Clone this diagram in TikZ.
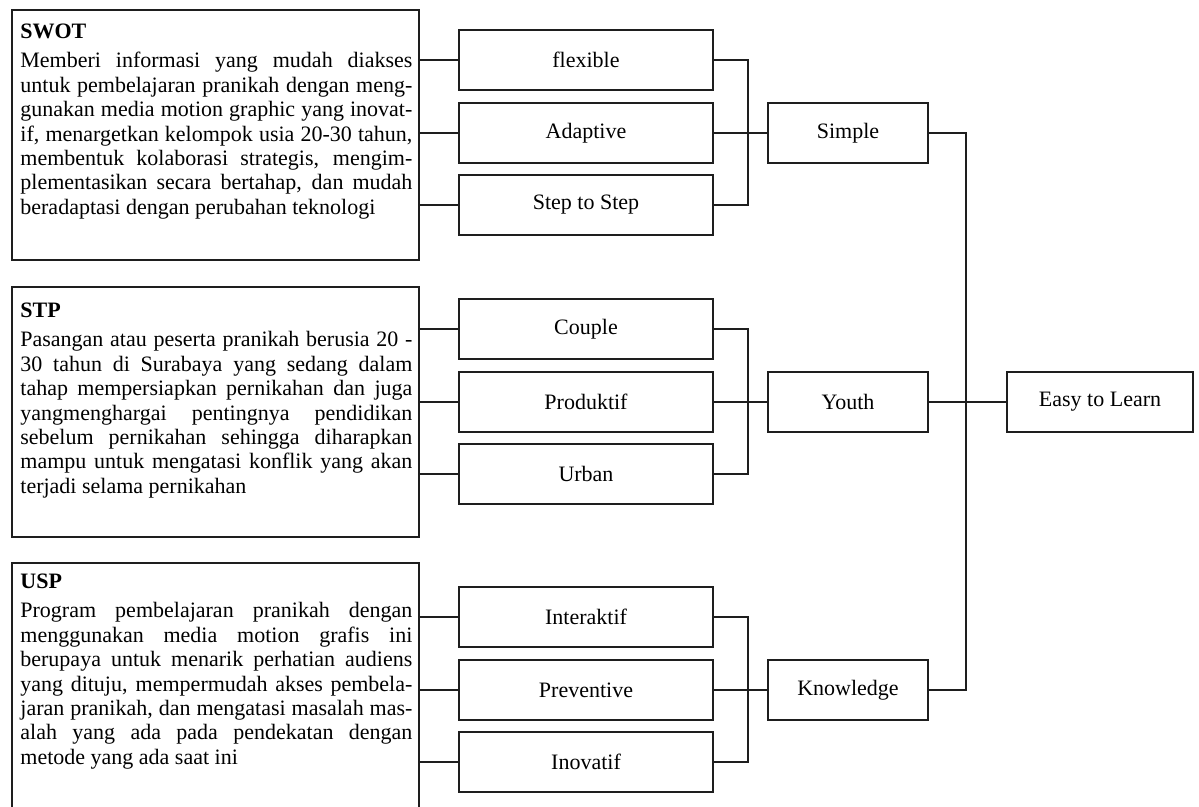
\documentclass[tikz,border=0pt]{standalone}
\usepackage{fontspec}
\setmainfont{Liberation Serif}
\usetikzlibrary{positioning}
\setlength{\parindent}{0pt}
\definecolor{linegray}{HTML}{1E1E1E}
\newcommand{\descfont}{\fontsize{11}{12.2}\selectfont\hyphenpenalty=10000\tolerance=10000\relax}

\tikzset{
  descbox/.style={draw=linegray, line width=0.9pt, minimum width=203.5pt, minimum height=125pt, inner sep=0pt},
  desctext/.style={anchor=north west, inner sep=0pt, text width=196pt, align=justify, font=\descfont},
  itembox/.style={draw=linegray, line width=0.9pt, minimum width=127pt, minimum height=30pt, inner sep=0pt,
    font=\fontsize{11}{13}\selectfont},
  groupbox/.style={itembox, minimum width=80pt},
  link/.style={draw=linegray, line width=0.9pt}
}

\begin{document}
\begin{tikzpicture}[x=0.5pt,y=-0.5pt]
\useasboundingbox (0,0) rectangle (1199,807);

% left column: description boxes
\node[descbox] (swot) at (215.5,135) {};
\node[descbox] (stp) at (215.5,412) {};
\node[descbox] (usp) at (215.5,688) {};

\node[desctext] (swottext) at (20,24) {\textbf{SWOT}\par\vspace{2.3pt}
Memberi informasi yang mudah diakses\linebreak
untuk pembelajaran pranikah dengan meng-\linebreak
gunakan media motion graphic yang inovat-\linebreak
if, menargetkan kelompok usia 20-30 tahun,\linebreak
membentuk kolaborasi strategis, mengim-\linebreak
plementasikan secara bertahap, dan mudah\linebreak
beradaptasi dengan perubahan teknologi};

\node[desctext] (stptext) at (20,303) {\textbf{STP}\par\vspace{2.3pt}
Pasangan atau peserta pranikah berusia 20 -\linebreak
30 tahun di Surabaya yang sedang dalam\linebreak
tahap mempersiapkan pernikahan dan juga\linebreak
yangmenghargai pentingnya pendidikan\linebreak
sebelum pernikahan sehingga diharapkan\linebreak
mampu untuk mengatasi konflik yang akan\linebreak
terjadi selama pernikahan};

\node[desctext] (usptext) at (20,574) {\textbf{USP}\par\vspace{2.3pt}
Program pembelajaran pranikah dengan\linebreak
menggunakan media motion grafis ini\linebreak
berupaya untuk menarik perhatian audiens\linebreak
yang dituju, mempermudah akses pembela-\linebreak
jaran pranikah, dan mengatasi masalah mas-\linebreak
alah yang ada pada pendekatan dengan\linebreak
metode yang ada saat ini};

% middle column: keywords
\node[itembox] (flexible) at (586,60) {flexible};
\node[itembox] (adaptive) at (586,133) {Adaptive};
\node[itembox] (steptostep) at (586,205) {Step to Step};
\node[itembox] (couple) at (586,329) {Couple};
\node[itembox] (produktif) at (586,402) {Produktif};
\node[itembox] (urban) at (586,474) {Urban};
\node[itembox] (interaktif) at (586,617) {Interaktif};
\node[itembox] (preventive) at (586,690) {Preventive};
\node[itembox] (inovatif) at (586,762) {Inovatif};

% right columns
\node[groupbox] (simple) at (848,133) {Simple};
\node[groupbox] (youth) at (848,402) {Youth};
\node[groupbox] (knowledge) at (848,690) {Knowledge};
\node[itembox, minimum width=93pt] (easy) at (1100,402) {Easy to Learn};

\coordinate (busa) at (748,133);
\coordinate (busb) at (748,402);
\coordinate (busc) at (748,690);
\coordinate (trunk) at (966,402);

% connectors
\foreach \src/\a/\b/\c in {swot/flexible/adaptive/steptostep, stp/couple/produktif/urban, usp/interaktif/preventive/inovatif}{
  \foreach \dst in {\a,\b,\c}
    \draw[link] (\src.east |- \dst.west) -- (\dst.west);
}
\draw[link] (flexible.east) -| (busa) |- (steptostep.east);
\draw[link] (adaptive.east) -- (simple.west);
\draw[link] (couple.east) -| (busb) |- (urban.east);
\draw[link] (produktif.east) -- (youth.west);
\draw[link] (interaktif.east) -| (busc) |- (inovatif.east);
\draw[link] (preventive.east) -- (knowledge.west);
\draw[link] (simple.east) -| (trunk) |- (knowledge.east);
\draw[link] (youth.east) -- (easy.west);
\end{tikzpicture}
\end{document}
